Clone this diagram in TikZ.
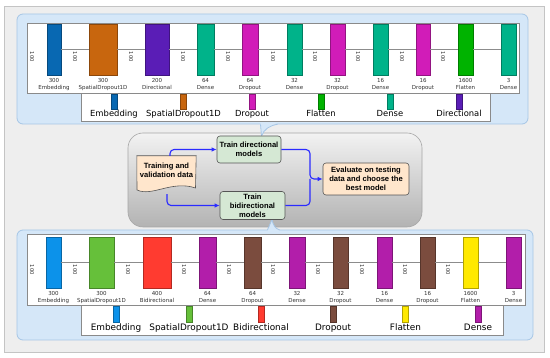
\documentclass[tikz,border=0pt]{standalone}
\usepackage{fontspec}
\setmainfont{DejaVu Sans}
\newfontfamily\flowfont{Liberation Sans}
\usetikzlibrary{arrows.meta}
\definecolor{bgcol}{HTML}{EEEEEE}
\definecolor{framecol}{HTML}{C4C4C4}
\definecolor{panelfill}{HTML}{D5E7F8}
\definecolor{panelline}{HTML}{A6C6E6}
\definecolor{boxline}{HTML}{8A8A8A}
\definecolor{tEmb}{HTML}{0868B2}
\definecolor{tSpd}{HTML}{C8660E}
\definecolor{tDir}{HTML}{5A1DB6}
\definecolor{tDen}{HTML}{00B38A}
\definecolor{tDrp}{HTML}{D11CB8}
\definecolor{tFlt}{HTML}{00B300}
\definecolor{bEmb}{HTML}{0C92EA}
\definecolor{bSpd}{HTML}{66C03A}
\definecolor{bBid}{HTML}{FF3B30}
\definecolor{bDen}{HTML}{B21EAA}
\definecolor{bDrp}{HTML}{7B4C3E}
\definecolor{bFlt}{HTML}{FFE900}
\definecolor{flowgreen}{HTML}{D5E8D4}
\definecolor{floworange}{HTML}{FFE6CC}
\definecolor{flowblue}{HTML}{2B2BFF}
\definecolor{flowline}{HTML}{555555}
\tikzset{
  bar/.style={rectangle, inner sep=0pt, outer sep=0pt, minimum height=51pt, line width=0.6pt},
  barlab/.style={inner sep=0pt, align=center, font=\fontsize{5.5}{7}\selectfont, text=black!80},
  hundred/.style={inner sep=0pt, rotate=-90, font=\fontsize{5.3}{6}\selectfont, text=black!80},
  layerline/.style={draw=black!45, line width=0.6pt},
  legbar/.style={rectangle, inner sep=0pt, outer sep=0pt, minimum width=6pt, line width=0.5pt},
  leglabA/.style={inner sep=0pt, anchor=base, font=\fontsize{8.4}{10}\selectfont},
  leglabB/.style={inner sep=0pt, anchor=base, font=\fontsize{8.9}{10}\selectfont},
  panel/.style={draw=panelline, fill=panelfill, line width=0.8pt, rounded corners=6pt},
  whitebox/.style={draw=boxline, fill=white, line width=0.6pt},
  flowbox/.style={draw=flowline, line width=0.6pt, rounded corners=3pt, align=center, inner sep=1pt,
     font=\flowfont\bfseries\fontsize{7.6}{9}\selectfont},
  flowarrow/.style={draw=flowblue, line width=1.1pt, rounded corners=4pt},
}
\begin{document}
\begin{tikzpicture}[x=1pt,y=-1pt]
\useasboundingbox (0,0) rectangle (550,358);
\fill[white] (0,0) rectangle (550,358);
\draw[framecol, fill=bgcol, line width=0.8pt] (4.5,6) rectangle (544,352.5);

% middle grey box
\draw[draw=black!35, line width=0.6pt, rounded corners=15pt, top color=black!5, bottom color=black!30]
  (128,133) rectangle (422,227);

% ===== top panel =====
\draw[panel] (17,14) rectangle (528,124);
\fill[panelfill] (260.5,122.8) -- (261.5,136) .. controls (264,129) and (270,125.5) .. (278,122.8) -- cycle;
\draw[panelline, line width=0.8pt] (260.5,124.3) -- (261.5,136) .. controls (264,129) and (270,125.5) .. (277.5,124.3);
\draw[whitebox] (27,23) rectangle (519,93);
\draw[whitebox] (81,93) rectangle (490,121);

\foreach \i/\cx/\w/\col/\num/\nm in {
  1/54/14/tEmb/300/Embedding, 2/103/28/tSpd/300/SpatialDropout1D, 3/157/24/tDir/200/Directional,
  4/205.5/17/tDen/64/Dense, 5/250/16/tDrp/64/Dropout, 6/294.5/15/tDen/32/Dense,
  7/337.5/15/tDrp/32/Dropout, 8/380.5/15/tDen/16/Dense, 9/423/14/tDrp/16/Dropout,
  10/465.5/15/tFlt/1600/Flatten, 11/508.5/15/tDen/3/Dense}{
  \node[bar, minimum width=\w pt, fill=\col, draw=\col!70!black] (tb\i) at (\cx,49.5) {};
  \node[barlab, anchor=north] (tbl\i) at ([yshift=-3pt]tb\i.south) {\num\\\nm};
}
\foreach \i [evaluate=\i as \j using int(\i+1)] in {1,...,10}{
  \draw[layerline] (tb\i.east) -- (tb\j.west);
}
\foreach \i/\x in {1/32, 2/75, 3/131, 4/183, 5/228, 6/273, 7/315, 8/358, 9/402, 10/443}{
  \node[hundred] (th\i) at (\x,57) {100};
}
\foreach \i/\cx/\col/\nm in {1/114/tEmb/Embedding, 2/183.5/tSpd/SpatialDropout1D, 3/252/tDrp/Dropout,
  4/321/tFlt/Flatten, 5/390/tDen/Dense, 6/459/tDir/Directional}{
  \node[legbar, minimum height=15pt, fill=\col, draw=\col!70!black] (tl\i) at (\cx,101.5) {};
  \node[leglabA] (tll\i) at (\cx,116.5) {\nm};
}

% ===== bottom panel =====
\draw[panel] (17,230) rectangle (533,340);
\fill[panelfill] (267.5,231.3) -- (272,219.5) .. controls (273,225) and (275,228.5) .. (280,231.3) -- cycle;
\draw[panelline, line width=0.8pt] (267.5,229.8) -- (272,219.5) .. controls (273,225) and (275,228.5) .. (279.5,229.8);
\draw[whitebox] (27,234) rectangle (525,305);
\draw[whitebox] (81,305) rectangle (503,335);

\foreach \i/\cx/\w/\col/\num/\nm in {
  1/53.5/15/bEmb/300/Embedding, 2/101.5/25/bSpd/300/SpatialDropout1D, 3/157/28/bBid/400/Bidirectional,
  4/207.5/17/bDen/64/Dense, 5/252.5/17/bDrp/64/Dropout, 6/297/16/bDen/32/Dense,
  7/340.5/15/bDrp/32/Dropout, 8/384.5/15/bDen/16/Dense, 9/427.5/15/bDrp/16/Dropout,
  10/470.5/15/bFlt/1600/Flatten, 11/513.5/15/bDen/3/Dense}{
  \node[bar, minimum width=\w pt, fill=\col, draw=\col!70!black] (bb\i) at (\cx,262.5) {};
  \node[barlab, anchor=north] (bbl\i) at ([yshift=-3pt]bb\i.south) {\num\\\nm};
}
\foreach \i [evaluate=\i as \j using int(\i+1)] in {1,...,10}{
  \draw[layerline] (bb\i.east) -- (bb\j.west);
}
\foreach \i/\x in {1/32, 2/75, 3/128, 4/184, 5/229, 6/273, 7/318, 8/362, 9/405, 10/448}{
  \node[hundred] (bh\i) at (\x,270) {100};
}
\foreach \i/\cx/\col/\nm in {1/116/bEmb/Embedding, 2/189/bSpd/SpatialDropout1D, 3/261/bBid/Bidirectional,
  4/333/bDrp/Dropout, 5/405.5/bFlt/Flatten, 6/478/bDen/Dense}{
  \node[legbar, minimum height=16pt, fill=\col, draw=\col!70!black] (bl\i) at (\cx,314) {};
  \node[leglabB] (bll\i) at (\cx,330.5) {\nm};
}

% ===== flow =====
\node[minimum width=59pt, minimum height=32pt, inner sep=0pt] (data) at (166.5,172) {};
\draw[draw=flowline, fill=floworange, line width=0.6pt]
  (data.north west) -- (data.north east) -- (195.5,188)
  .. controls (172,180) and (152,197) .. (137,190) -- cycle;
\node[align=center, inner sep=0pt, font=\flowfont\bfseries\fontsize{7.6}{9}\selectfont] (datatext) at (166.5,170) {Training and\\validation data};

\node[flowbox, fill=flowgreen, minimum width=64pt, minimum height=27pt] (dir) at (249,149.5) {Train directional\\models};
\node[flowbox, fill=flowgreen, minimum width=65pt, minimum height=28pt] (bidir) at (252.5,205.5) {Train\\bidirectional\\models};
\node[flowbox, fill=floworange, minimum width=86pt, minimum height=32pt] (eval) at (366,179) {Evaluate on testing\\data and choose the\\best model};

\coordinate (junc) at (310,179);
\draw[flowarrow, -{Latex[length=5pt,width=4.5pt]}] ([xshift=3.5pt]data.north) |- (dir.west);
\draw[flowarrow, -{Latex[length=5pt,width=4.5pt]}] ([xshift=0.5pt,yshift=-6pt]data.south) |- (bidir.west);
\draw[flowarrow, -{Latex[length=5pt,width=4.5pt]}] (dir.east) -| (junc) -- (eval.west);
\draw[flowarrow] (bidir.east) -| (junc);
\end{tikzpicture}
\end{document}
